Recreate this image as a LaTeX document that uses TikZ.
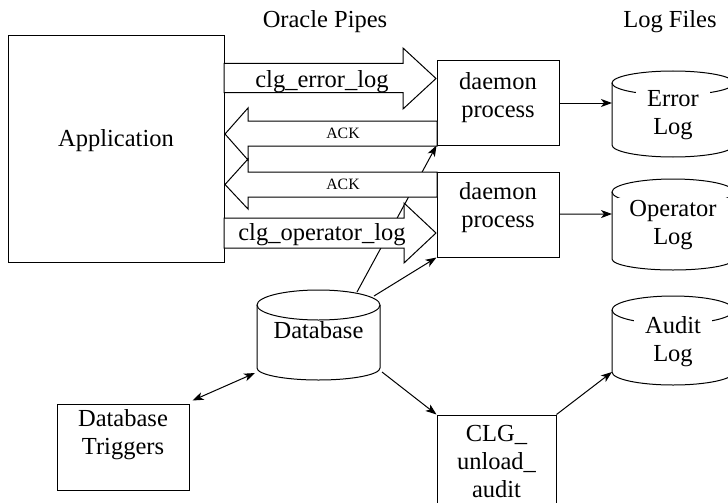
\documentclass[tikz,border=0pt]{standalone}
\usepackage{fontspec}
\setmainfont{Liberation Serif}
\usetikzlibrary{arrows.meta,calc}
\begin{document}
\begin{tikzpicture}[x=1pt,y=-1pt,
  box/.style={draw, line width=1pt, inner sep=0pt, fill=white},
  txt/.style={font=\fontsize{24.5}{28}\selectfont, align=center, inner sep=0pt},
  small/.style={font=\fontsize{15.8}{18}\selectfont, inner sep=0pt},
  pipe/.style={draw, line width=1pt, fill=white, line join=miter},
  cyl/.style={draw, line width=1pt},
  ctxt/.style={txt, fill=white, inner xsep=11pt, inner ysep=2pt},
  tip/.style={Stealth[length=11pt,width=8pt,inset=3pt]},
  arr/.style={draw, line width=1pt, -{Stealth[length=11pt,width=8pt,inset=3pt]}},
  darr/.style={draw, line width=1pt, {Stealth[length=11pt,width=8pt,inset=3pt]}-{Stealth[length=11pt,width=8pt,inset=3pt]}},
]
\useasboundingbox (0,0) rectangle (728,503);
\clip (0,0) rectangle (728,503);

% headers
\node[txt] (hpipes) at (325,22) {Oracle Pipes};
\node[txt] (hlogs) at (670,22) {Log Files};

% application
\node[box, minimum width=216, minimum height=226] (app) at (116,149) {};
\node[txt] (apptxt) at (116,141) {Application};

% database cylinder
\draw[cyl] (318.5,305) ellipse [x radius=61.5, y radius=15];
\draw[cyl] (257,305) -- (257,368) arc[start angle=180, end angle=360, x radius=61.5pt, y radius=12pt] -- (380,305);
\node[txt] (db) at (318.5,330) {Database};
\coordinate (dbA) at (357,292);
\coordinate (dbB) at (374,296);
\coordinate (dbC) at (255,373);
\coordinate (dbD) at (382,372);

% daemon boxes (frames)
\node[box, minimum width=122, minimum height=84] (d1) at (498,103) {};
\node[box, minimum width=122, minimum height=85] (d2) at (498,214.5) {};

% lines from database to daemons (under the pipes)
\draw[arr] (dbA) -- (d1.south west);
\draw[arr] (dbB) -- (d2.south west);

% pipes
\draw[pipe] (224,63.5) -- (403,63.5) -- (403,48) -- (436,78.5) -- (403,109) -- (403,92.5) -- (224,92.5) -- cycle;
\draw[pipe] (437,121) -- (248,121) -- (248,108) -- (225,134) -- (248,160) -- (248,146) -- (437,146) -- cycle;
\draw[pipe] (437,172) -- (248,172) -- (248,159) -- (225,184.5) -- (248,209) -- (248,197) -- (437,197) -- cycle;
\draw[pipe] (224,218) -- (404,218) -- (404,203) -- (436,233) -- (404,263) -- (404,248) -- (224,248) -- cycle;
\node[txt] (perr) at (322,82) {clg\_error\_log};
\node[small] (ack1) at (343,133.5) {ACK};
\node[small] (ack2) at (343,184.5) {ACK};
\node[txt] (pop) at (322,235) {clg\_operator\_log};

% daemon texts
\node[txt] (d1t) at (498,97.5) {daemon\\process};
\node[txt] (d2t) at (498,208) {daemon\\process};

% log cylinders
\draw[cyl] (673,83) ellipse [x radius=61, y radius=12];
\draw[cyl] (612,83) -- (612,145) arc[start angle=180, end angle=360, x radius=61pt, y radius=12pt] -- (734,83);
\node[ctxt] (errlog) at (673,115) {Error\\Log};
\coordinate (errin) at (612,103);

\draw[cyl] (673,192) ellipse [x radius=61, y radius=13];
\draw[cyl] (612,192) -- (612,259) arc[start angle=180, end angle=360, x radius=61pt, y radius=11pt] -- (734,192);
\node[ctxt] (oplog) at (673,225) {Operator\\Log};
\coordinate (opin) at (612,214);

\draw[cyl] (673,310) ellipse [x radius=61, y radius=14];
\draw[cyl] (612,310) -- (612,372) arc[start angle=180, end angle=360, x radius=61pt, y radius=13pt] -- (734,310);
\node[ctxt] (audlog) at (673,342) {Audit\\Log};
\coordinate (audin) at (612,372);

\draw[arr] (d1) -- (errin);
\draw[arr] (d2) -- (opin);

% triggers and unload
\node[box, minimum width=132, minimum height=86] (trig) at (123,447) {};
\node[txt] (trigt) at (123,435) {Database\\Triggers};
\node[box, minimum width=119, minimum height=115] (clg) at (496.5,472.5) {};
\node[txt] (clgt) at (496.5,462) {CLG\_\\unload\_\\audit};

\draw[darr] (dbC) -- ($(trig.north east)+(3,-3)$);
\draw[arr] (dbD) -- (clg.north west);
\draw[arr] (clg.north east) -- (audin);
\end{tikzpicture}
\end{document}
